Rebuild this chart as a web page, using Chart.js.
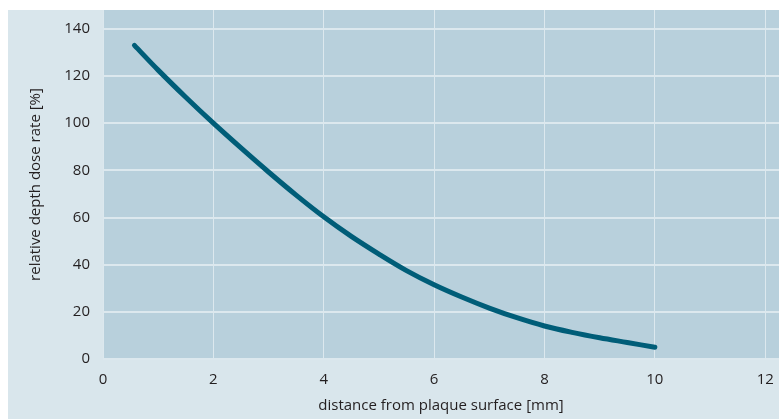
<!DOCTYPE html>
<html>
<head>
<meta charset="utf-8">
<script src="https://cdn.jsdelivr.net/npm/chart.js@4/dist/chart.umd.min.js"></script>
<style>
  html, body { margin: 0; padding: 0; background: #ffffff; }
  #wrap { position: absolute; left: 8px; top: 10px; width: 771px; height: 409px; background: #d9e6ec; }
</style>
</head>
<body>
<div id="wrap"><canvas id="c"></canvas></div>
<script>
const distanceMm = [0.57, 1, 1.5, 2, 2.5, 3, 3.5, 4, 4.5, 5, 5.5, 6, 6.5, 7, 7.5, 8, 8.5, 9, 9.5, 10];
const doseRate   = [133, 122.5, 111, 100, 89.5, 79.3, 69.5, 60.3, 52, 44.5, 37.5, 31.5, 26.3, 21.6, 17.5, 14, 11.3, 9, 7, 5];
const xTicks = [0, 2, 4, 6, 8, 10, 12];
const yTicks = [0, 20, 40, 60, 80, 100, 120, 140];
const xTitle = 'distance from plaque surface [mm]';
const yTitle = 'relative depth dose rate [%]';

const points = distanceMm.map((x, i) => ({ x: x, y: doseRate[i] }));

const plotBg = {
  id: 'plotBg',
  beforeDraw(chart) {
    const { ctx, chartArea: a } = chart;
    ctx.save();
    ctx.fillStyle = '#b8d0dc';
    ctx.fillRect(a.left, a.top, a.right - a.left, a.bottom - a.top);
    ctx.restore();
  }
};

const font = { family: "'Open Sans', 'Noto Sans', sans-serif", size: 15 };
const textColor = '#231f20';

new Chart(document.getElementById('c'), {
  type: 'scatter',
  data: {
    datasets: [{
      data: points,
      showLine: true,
      borderColor: '#005d78',
      borderWidth: 5,
      borderCapStyle: 'round',
      borderJoinStyle: 'round',
      pointRadius: 0,
      pointHoverRadius: 0,
      tension: 0.35,
      fill: false
    }]
  },
  options: {
    responsive: true,
    maintainAspectRatio: false,
    animation: false,
    layout: { padding: 0 },
    plugins: { legend: { display: false }, tooltip: { enabled: false } },
    scales: {
      x: {
        type: 'linear',
        min: 0, max: 12.25,
        afterBuildTicks: s => { s.ticks = xTicks.map(v => ({ value: v })); },
        afterFit: s => { s.height = 60; s.paddingLeft = 0; s.paddingRight = 0; },
        grid: { color: '#dce8ee', lineWidth: 1, drawTicks: false },
        border: { display: false },
        ticks: { color: textColor, font: font, padding: 12, maxRotation: 0 },
        title: { display: true, text: xTitle, color: textColor, font: font, padding: { top: 2, bottom: 4 } }
      },
      y: {
        type: 'linear',
        min: 0, max: 148,
        afterBuildTicks: s => { s.ticks = yTicks.map(v => ({ value: v })); },
        afterFit: s => { s.width = 95; s.paddingTop = 0; s.paddingBottom = 0; },
        grid: { color: '#dce8ee', lineWidth: 2, drawTicks: false },
        border: { display: false },
        ticks: { color: textColor, font: font, padding: 13 },
        title: { display: true, text: yTitle, color: textColor, font: font, padding: { top: 19, bottom: 4 } }
      }
    }
  },
  plugins: [plotBg]
});
</script>
</body>
</html>
